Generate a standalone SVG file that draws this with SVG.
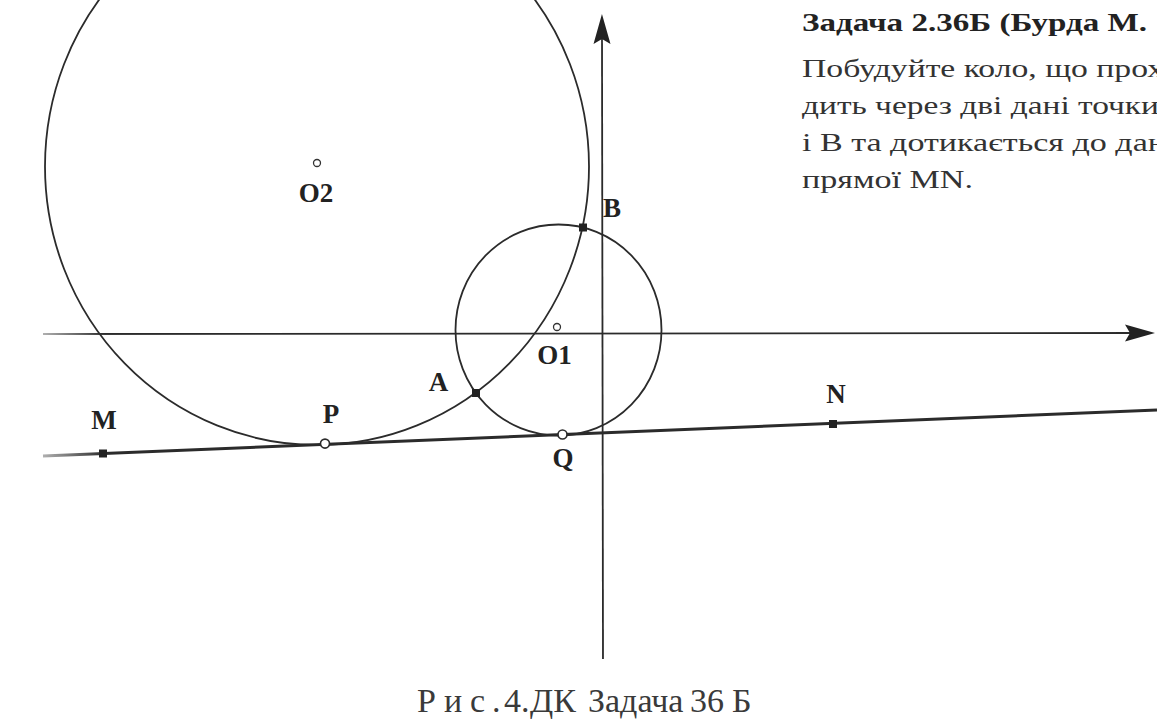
<svg xmlns="http://www.w3.org/2000/svg" width="1157" height="724" viewBox="0 0 1157 724">
<defs>
<style>
.curve{fill:none;stroke:#2b2b2b;stroke-width:1.8}
.axis{fill:none;stroke:url(#fadeL);stroke-width:1.8}
.vaxis{fill:none;stroke:#2b2b2b;stroke-width:1.8}
.mn{fill:none;stroke:url(#fadeL);stroke-width:3}
.lbl{font-family:"Liberation Serif","Times New Roman",serif;font-weight:bold;font-size:27px;fill:#222;text-anchor:middle}
.pt{fill:#222}
.open{fill:#fff;stroke:#2b2b2b;stroke-width:1.6}
.ctr{fill:#fff;stroke:#333;stroke-width:1.3}
.title{font-family:"Liberation Serif","Times New Roman",serif;font-weight:bold;font-size:26px;fill:#222}
.body{font-family:"Liberation Serif","Times New Roman",serif;font-size:26px;fill:#333}
.cap{font-family:"Liberation Serif","Times New Roman",serif;font-size:34px;fill:#3a3a3a}
</style>
<marker id="arrow" markerUnits="userSpaceOnUse" orient="auto" refX="0" refY="0" markerWidth="40" markerHeight="20" overflow="visible">
<path d="M25,0 L-5,-8.5 L0,0 L-5,8.5 Z" fill="#222"/>
</marker>
<linearGradient id="fadeL" gradientUnits="userSpaceOnUse" x1="43" y1="0" x2="105" y2="0">
<stop offset="0" stop-color="#b0b0b0"/>
<stop offset="1" stop-color="#2b2b2b"/>
</linearGradient>
</defs>
<rect width="1157" height="724" fill="#fff"/>

<g id="connectors">
<line id="axis-y" class="vaxis" x1="603" y1="659" x2="602" y2="39" marker-end="url(#arrow)"/>
<line id="axis-x" class="axis" x1="43" y1="334" x2="1130" y2="333" marker-end="url(#arrow)"/>
<line id="line-MN" class="mn" x1="43" y1="456" x2="1157" y2="410"/>
<ellipse id="circle-O2" class="curve" cx="317" cy="166.5" rx="272" ry="278.5"/>
<ellipse id="circle-O1" class="curve" cx="558.5" cy="330" rx="103" ry="105.5"/>
</g>

<g id="node-M"><rect class="pt" x="99" y="449.5" width="8" height="8"/><text class="lbl" x="104" y="429">M</text></g>
<g id="node-P"><circle class="open" cx="325" cy="443.6" r="4.5"/><text class="lbl" x="331" y="423">P</text></g>
<g id="node-A"><rect class="pt" x="472" y="389" width="8" height="8"/><text class="lbl" x="438.5" y="391">A</text></g>
<g id="node-B"><rect class="pt" x="579" y="223.5" width="8" height="8"/><text class="lbl" x="612" y="217">B</text></g>
<g id="node-Q"><circle class="open" cx="562.5" cy="434.5" r="4.5"/><text class="lbl" x="563" y="467">Q</text></g>
<g id="node-N"><rect class="pt" x="829" y="420" width="8" height="8"/><text class="lbl" x="836" y="403">N</text></g>
<g id="node-O1"><circle class="ctr" cx="557" cy="327" r="3.5"/><text class="lbl" x="554.5" y="364">O1</text></g>
<g id="node-O2"><circle class="ctr" cx="317" cy="163" r="3.5"/><text class="lbl" x="316" y="202">O2</text></g>

<g id="problem-text">
<text class="title" x="802" y="31" textLength="345" lengthAdjust="spacingAndGlyphs">Задача 2.36Б (Бурда М.</text>
<text class="body" x="802" y="77" textLength="362" lengthAdjust="spacingAndGlyphs">Побудуйте коло, що прох</text>
<text class="body" x="802" y="114" textLength="357" lengthAdjust="spacingAndGlyphs">дить через дві дані точки</text>
<text class="body" x="802" y="151" textLength="364" lengthAdjust="spacingAndGlyphs">і В та дотикається до дан</text>
<text class="body" x="802" y="188" textLength="171" lengthAdjust="spacingAndGlyphs">прямої MN.</text>
</g>

<g id="caption">
<text class="cap" y="712"><tspan x="417 444 470 492">Рис.</tspan><tspan x="504">4.</tspan><tspan x="530">ДК</tspan><tspan x="588">Задача</tspan><tspan x="690">36</tspan><tspan x="732">Б</tspan></text>
</g>
</svg>
